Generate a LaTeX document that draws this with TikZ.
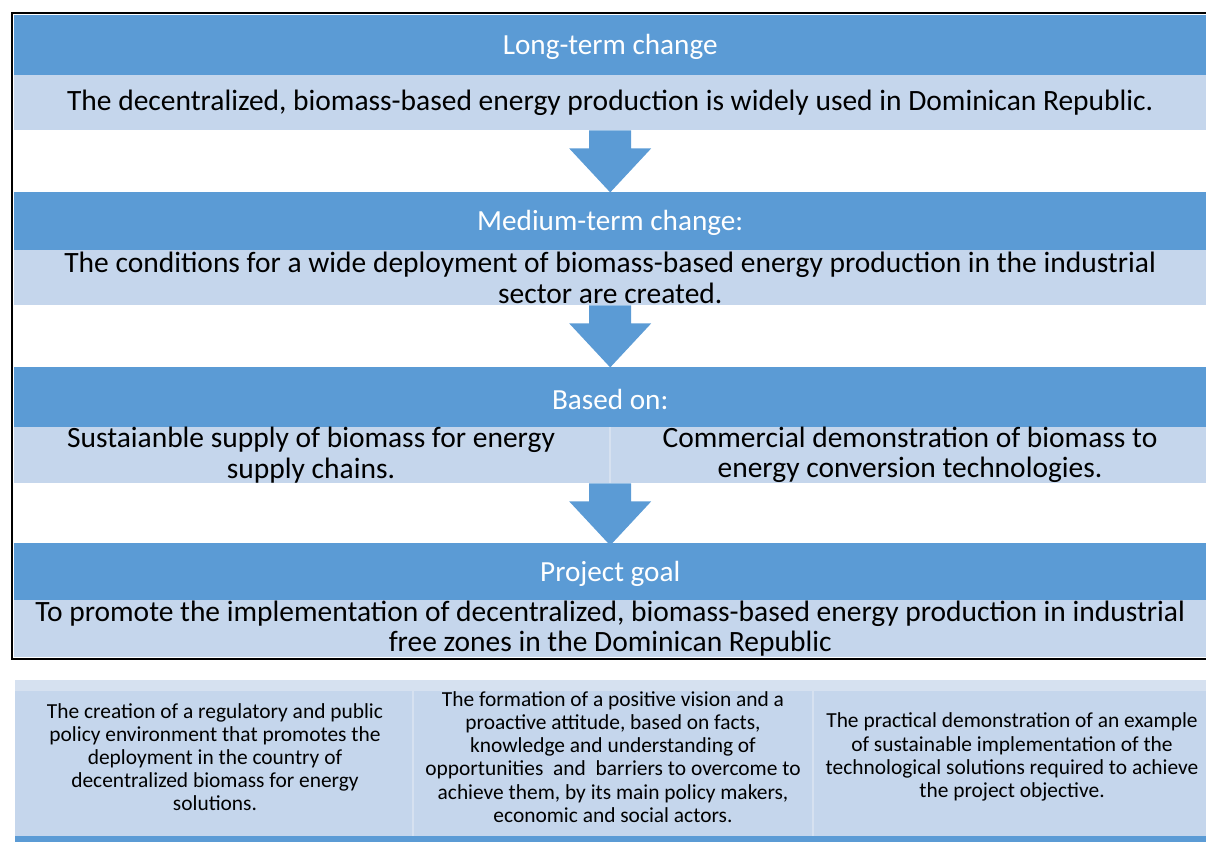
\documentclass[tikz,border=0pt]{standalone}
\usepackage{fontspec}
\setmainfont{Carlito}
\usetikzlibrary{calc}
\usetikzlibrary{positioning}

\definecolor{barblue}{RGB}{91,155,213}
\definecolor{barlight}{RGB}{197,214,236}
\definecolor{barpale}{RGB}{214,225,240}

\begin{document}
\begin{tikzpicture}[x=1bp, y=-1bp,
  dark/.style={fill=barblue, inner sep=0, anchor=north west, minimum width=1192bp},
  light/.style={fill=barlight, inner sep=0, anchor=north west, minimum width=1192bp},
  head/.style={text=white, yshift=-2bp, font=\fontsize{29.3}{30}\selectfont},
  body/.style={align=center, font=\fontsize{29.6}{30.5}\selectfont},
  small/.style={align=center, font=\fontsize{21.5}{23.2}\selectfont},
  down/.pic={\fill[barblue] (-21,0) -- (21,0) -- (21,18) -- (41,18) -- (0,62) -- (-41,18) -- (-21,18) -- cycle;}]
\useasboundingbox (0,0) rectangle (1206,842);

% bands
\node[dark, minimum height=60bp] (ltb) at (14,15) {};
\node[light, minimum height=55bp] (ltl) at (14,75) {};
\node[dark, minimum height=58bp] (mtb) at (14,192) {};
\node[light, minimum height=55bp] (mtl) at (14,250) {};
\node[dark, minimum height=60bp] (bob) at (14,367) {};
\node[light, minimum height=56bp] (bol) at (14,427) {};
\node[dark, minimum height=57bp] (pgb) at (14,543) {};
\node[light, minimum height=57bp] (pgl) at (14,600) {};
\draw[barpale, line width=1.5bp] (bol.north) -- (bol.south);

\node[head] (lt) at (ltb) {Long-term change};
\node[body] (ltt) at (ltl) {The decentralized, biomass-based energy production is widely used in Dominican Republic.};
\node[head] (mt) at (mtb) {Medium-term change:};
\node[body] (mtt) at (mtl) {The conditions for a wide deployment of biomass-based energy production in the industrial\\ sector are created.};
\node[head] (bo) at (bob) {Based on:};
\node[body] (bo1) at (311,455) {Sustaianble supply of biomass for energy\\ supply chains.};
\node[body] (bo2) at (910,455) {Commercial demonstration of biomass to\\ energy conversion technologies.};
\node[head] (pg) at (pgb) {Project goal};
\node[body] (pgt) at (pgl) {To promote the implementation of decentralized, biomass-based energy production in industrial\\ free zones in the Dominican Republic};

% arrows
\pic at (ltl.south) {down};
\pic at (mtl.south) {down};
\pic at (bol.south) {down};

\draw[line width=1.5bp] (12,13) rectangle (1230,659);

% outputs
\node[fill=barlight, inner sep=0, anchor=north west, minimum width=1191bp, minimum height=156bp] (out) at (15,680) {};
\fill[barpale] (out.north west) rectangle ++(1191,11);
\fill[barblue] (out.south west) rectangle ++(1191,6);
\draw[barpale, line width=2bp] (413,680) -- (413,836);
\draw[barpale, line width=2bp] (813,680) -- (813,836);

\node[small] (o1) at (215,757) {The creation of a regulatory and public\\ policy environment that promotes the\\ deployment in the country of\\ decentralized biomass for energy\\ solutions.};
\node[small] (o2) at (613,757) {The formation of a positive vision and a\\ proactive attitude, based on facts,\\ knowledge and understanding of\\ opportunities\ \ and\ \ barriers to overcome to\\ achieve them, by its main policy makers,\\ economic and social actors.};
\node[small] (o3) at (1012,757) {The practical demonstration of an example\\ of sustainable implementation of the\\ technological solutions required to achieve\\ the project objective.};
\end{tikzpicture}
\end{document}
